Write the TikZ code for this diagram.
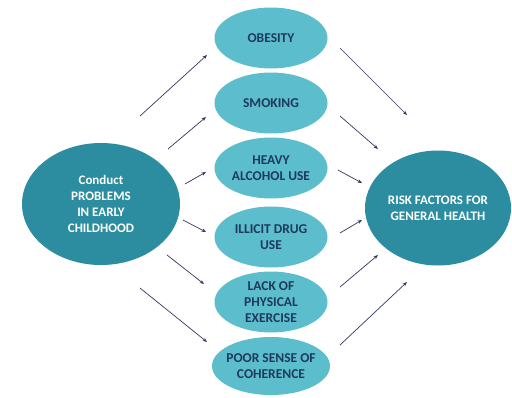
\documentclass[tikz,border=0pt]{standalone}
\usepackage{fontspec}
\setmainfont{Carlito}
\usetikzlibrary{shapes.geometric,arrows.meta}
\definecolor{tealdark}{HTML}{2B8D9F}
\definecolor{teallight}{HTML}{5CBDCC}
\definecolor{navytext}{HTML}{1E3A5C}
\definecolor{arrowgrey}{HTML}{33385A}
\tikzset{
  bigcirc/.style={ellipse, fill=tealdark, text=white, font=\bfseries\fontsize{13}{15.7}\selectfont,
    align=center, inner sep=0pt},
  riskbox/.style={ellipse, fill=teallight, text=navytext, font=\bfseries\fontsize{13.5}{16}\selectfont,
    align=center, inner sep=0pt, minimum width=113pt, minimum height=61pt},
  link/.style={draw=arrowgrey, line width=0.7pt, -{Stealth[length=4.5pt,width=3.5pt]}}
}

\begin{document}
\begin{tikzpicture}[x=1pt,y=-1pt]
  \useasboundingbox (0,0) rectangle (512,397);

  % the two big ellipses
  \node [bigcirc, minimum width=158pt, minimum height=122pt] (cond) at (101,204)
    {Conduct\\PROBLEMS\\IN EARLY\\CHILDHOOD};
  \node [bigcirc, minimum width=146pt, minimum height=115pt] (risk) at (438,208)
    {RISK FACTORS FOR\\GENERAL HEALTH};

  % the six behaviours
  \node [riskbox] (obes) at (271,38) {OBESITY};
  \node [riskbox] (smok) at (271,103) {SMOKING};
  \node [riskbox] (alco) at (271,168) {HEAVY\\ALCOHOL USE};
  \node [riskbox] (drug) at (271,237) {ILLICIT DRUG\\USE};
  \node [riskbox] (exer) at (271,302) {LACK OF\\PHYSICAL\\EXERCISE};
  \node [riskbox, inner sep=-6pt, minimum width=118pt, minimum height=58pt] (cohe) at (271,366)
    {POOR SENSE OF\\COHERENCE};

  % free arrow ends
  \coordinate (a1) at (140,116); \coordinate (b1) at (207,55);
  \coordinate (a2) at (168,149); \coordinate (b2) at (206,117);
  \coordinate (a3) at (185,184); \coordinate (b3) at (206,172);
  \coordinate (a4) at (183,220); \coordinate (b4) at (206,232);
  \coordinate (a5) at (167,255); \coordinate (b5) at (204,284);
  \coordinate (a6) at (140,288); \coordinate (b6) at (207,342);

  \coordinate (c1) at (340,48);  \coordinate (d1) at (407,115);
  \coordinate (c2) at (340,116); \coordinate (d2) at (378,149);
  \coordinate (c3) at (338,170); \coordinate (d3) at (362,183);
  \coordinate (c4) at (340,233); \coordinate (d4) at (362,220);
  \coordinate (c5) at (340,287); \coordinate (d5) at (378,255);
  \coordinate (c6) at (340,345); \coordinate (d6) at (407,282);

  \foreach \i in {1,...,6} {
    \draw [link] (a\i) -- (b\i);
    \draw [link] (c\i) -- (d\i);
  }
\end{tikzpicture}
\end{document}
